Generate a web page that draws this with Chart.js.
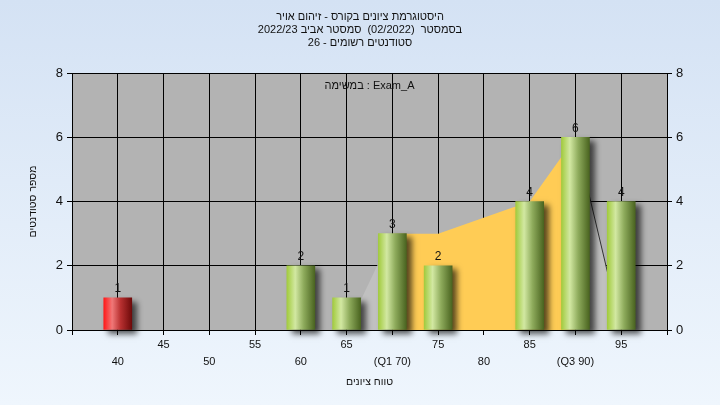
<!DOCTYPE html>
<html lang="he">
<head>
<meta charset="UTF-8">
<title>Grade Histogram</title>
<script src="https://cdn.jsdelivr.net/npm/chart.js"></script>
<style>
  html, body { margin: 0; padding: 0; background: #e4eefa; }
  canvas { display: block; }
</style>
</head>
<body>
<canvas id="hist" width="720" height="405"></canvas>
<script>
// grade bins and number of students in each
const gradeBins = [40, 45, 50, 55, 60, 65, 70, 75, 80, 85, 90, 95];
const studentCounts = [1, 0, 0, 0, 2, 1, 3, 2, 0, 4, 6, 4];
const failLimit = 55; // bins below this are red

// quartiles shown on the x axis
const q1 = 70;
const q3 = 90;

// distribution area behind the bars
const curveX = [65, 70, 75, 85, 90, 95];
const curveY = [0, 3, 3, 4, 6, 0];

const titleLines = [
    "היסטוגרמת ציונים בקורס - זיהום אויר",
    "בסמסטר  (02/2022)  סמסטר אביב 2022/23",
    "סטודנטים רשומים - 26"
];
const taskLabel = "במשימה : Exam_A";
const xTitle = "טווח ציונים";
const yTitle = "מספר סטודנטים";

const pts = (from, to) => curveX.map((x, i) => ({x: x, y: curveY[i]})).filter(p => p.x >= from && p.x <= to);

function barGradient(context) {
    const chart = context.chart;
    const raw = context.raw;
    if (!raw || !chart.chartArea) return "#9dc53a";
    const cx = chart.scales.x.getPixelForValue(raw.x);
    const g = chart.ctx.createLinearGradient(cx - 14, 0, cx + 14, 0);
    if (raw.x < failLimit) {
        g.addColorStop(0, "#ff1a1a");
        g.addColorStop(0.3, "#f07878");
        g.addColorStop(0.6, "#b83030");
        g.addColorStop(1, "#6e0a0a");
    } else {
        g.addColorStop(0, "#a2cb3e");
        g.addColorStop(0.3, "#d2e8a2");
        g.addColorStop(0.6, "#8eab5c");
        g.addColorStop(1, "#4a6420");
    }
    return g;
}

const backdrop = {
    id: "backdrop",
    beforeDraw(chart) {
        const {ctx, chartArea: a} = chart;
        const g = ctx.createLinearGradient(0, 0, 0, chart.height);
        g.addColorStop(0, "#d4e2f4");
        g.addColorStop(1, "#eff6fd");
        ctx.save();
        ctx.fillStyle = g;
        ctx.fillRect(0, 0, chart.width, chart.height);
        ctx.fillStyle = "#b3b3b3";
        ctx.fillRect(a.left, a.top, a.right - a.left, a.bottom - a.top);
        ctx.restore();
    },
    beforeDatasetDraw(chart, args) {
        if (args.meta.type !== "bar") return;
        const ctx = chart.ctx;
        ctx.save();
        ctx.shadowColor = "rgba(0,0,0,0.65)";
        ctx.shadowBlur = 6;
        ctx.shadowOffsetX = 5;
        ctx.shadowOffsetY = 4;
    },
    afterDatasetDraw(chart, args) {
        if (args.meta.type !== "bar") return;
        chart.ctx.restore();
    },
    afterDraw(chart) {
        const {ctx, chartArea: a} = chart;
        ctx.save();
        ctx.fillStyle = "#111";
        ctx.textAlign = "center";
        ctx.textBaseline = "middle";
        ctx.font = "11px 'Liberation Sans', Arial, sans-serif";
        titleLines.forEach((t, i) => ctx.fillText(t, 360, 17 + i * 13));
        ctx.fillText(taskLabel, (a.left + a.right) / 2, 86);

        // counts above the bars
        ctx.font = "12px 'Liberation Sans', Arial, sans-serif";
        chart.data.datasets.forEach((ds, di) => {
            if (ds.type !== "bar") return;
            chart.getDatasetMeta(di).data.forEach((el, i) => {
                const v = ds.data[i].y;
                if (!v) return;
                ctx.fillText(String(v), el.x, el.y - 9);
            });
        });
        ctx.restore();
    }
};

const barData = gradeBins.map((g, i) => ({x: g, y: studentCounts[i] || null}));

new Chart(document.getElementById("hist"), {
    data: {
        datasets: [
            {
                type: "bar",
                data: barData,
                backgroundColor: barGradient,
                barThickness: 28,
                borderWidth: 0,
                clip: false,
                order: 1
            },
            {
                type: "line",
                data: pts(curveX[0], q1),
                fill: "origin",
                backgroundColor: "#c0c0c0",
                borderWidth: 0,
                pointRadius: 0,
                tension: 0,
                order: 3
            },
            {
                type: "line",
                data: pts(q1, q3),
                fill: "origin",
                backgroundColor: "#ffcc55",
                borderWidth: 0,
                pointRadius: 0,
                tension: 0,
                order: 2
            },
            {
                type: "line",
                data: pts(q3, curveX[curveX.length - 1]),
                fill: "origin",
                backgroundColor: "#c0c0c0",
                borderColor: "#333",
                borderWidth: 1,
                pointRadius: 0,
                tension: 0,
                order: 3
            }
        ]
    },
    options: {
        responsive: false,
        animation: false,
        layout: { padding: { top: 73, left: 0, right: 0, bottom: 0 } },
        plugins: { legend: { display: false }, tooltip: { enabled: false } },
        scales: {
            x: {
                type: "linear",
                offset: false,
                min: 35,
                max: 100,
                grid: { color: "#000", tickLength: 5, offset: false },
                border: { color: "#000" },
                ticks: {
                    stepSize: 5,
                    autoSkip: false,
                    maxRotation: 0,
                    padding: 2,
                    color: "#111",
                    font: { size: 11, lineHeight: 1.5 },
                    callback: function (value) {
                        const v = Math.round(value);
                        if (v <= 35 || v >= 100) return "";
                        let txt = String(v);
                        if (v === q1) txt = "(Q1 " + v + ")";
                        if (v === q3) txt = "(Q3 " + v + ")";
                        return (v % 10 === 5) ? [txt, ""] : ["", txt];
                    }
                },
                title: {
                    display: true,
                    text: xTitle,
                    color: "#111",
                    font: { size: 10.5 },
                    padding: { top: 0, bottom: 17 }
                },
                afterFit: s => { s.height = 75; }
            },
            y: {
                position: "left",
                min: 0,
                max: 8,
                grid: { color: "#000", tickLength: 5 },
                border: { color: "#000" },
                ticks: { stepSize: 2, padding: 4, color: "#111", font: { size: 13 } },
                title: {
                    display: true,
                    text: yTitle,
                    color: "#111",
                    font: { size: 10.5 },
                    padding: { top: 27, bottom: 0 }
                },
                afterFit: s => { s.width = 72; }
            },
            y2: {
                position: "right",
                min: 0,
                max: 8,
                grid: { color: "#000", tickLength: 5, drawOnChartArea: false },
                border: { color: "#000" },
                ticks: { stepSize: 2, padding: 4, color: "#111", font: { size: 13 } },
                afterFit: s => { s.width = 53; }
            }
        }
    },
    plugins: [backdrop]
});
</script>
</body>
</html>
